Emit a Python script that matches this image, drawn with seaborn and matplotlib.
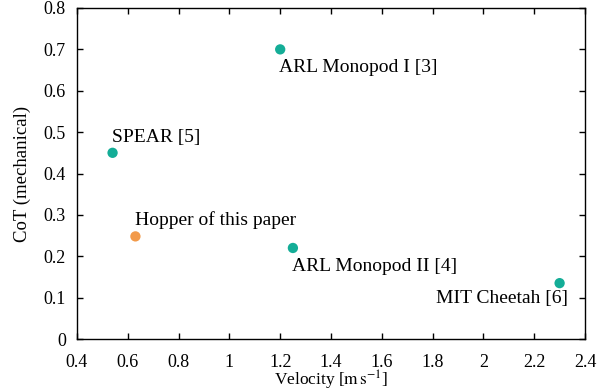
import matplotlib
matplotlib.use("Agg")
import matplotlib.pyplot as plt
import seaborn as sns
import pandas as pd

names = ["ARL Monopod I [3]", "SPEAR [5]", "Hopper of this paper", "ARL Monopod II [4]", "MIT Cheetah [6]"]
velocity = [1.2, 0.54, 0.63, 1.25, 2.3]
cot = [0.70, 0.45, 0.248, 0.22, 0.135]
group = ["other", "other", "ours", "other", "other"]
label_x = [1.195, 0.538, 0.628, 1.246, 2.333]
label_y = [0.657, 0.488, 0.288, 0.176, 0.099]
label_ha = ["left", "left", "left", "left", "right"]
xticks = [0.4, 0.6, 0.8, 1.0, 1.2, 1.4, 1.6, 1.8, 2.0, 2.2, 2.4]
xticklabels = ["0.4", "0.6", "0.8", "1", "1.2", "1.4", "1.6", "1.8", "2", "2.2", "2.4"]
yticks = [0, 0.1, 0.2, 0.3, 0.4, 0.5, 0.6, 0.7, 0.8]
yticklabels = ["0", "0.1", "0.2", "0.3", "0.4", "0.5", "0.6", "0.7", "0.8"]

sns.set_style("ticks")
plt.rcParams["font.family"] = ["Liberation Serif", "DejaVu Serif"]
plt.rcParams["mathtext.fontset"] = "stix"
plt.rcParams["text.color"] = "black"
plt.rcParams["axes.labelcolor"] = "black"

df = pd.DataFrame({"v": velocity, "c": cot, "g": group, "n": names})

fig = plt.figure(figsize=(6.11, 3.91), dpi=100)
ax = fig.add_axes([77/611, 1-339/391, (585-77)/611, (339-8)/391])
sns.scatterplot(data=df, x="v", y="c", hue="g", palette={"other": "#14ad97", "ours": "#f29a4a"},
                s=55, linewidth=0, legend=False, ax=ax)
for n, x, y, ha in zip(names, label_x, label_y, label_ha):
    ax.text(x, y, n, ha=ha, va="center", fontsize=14, color="black")

ax.set_xlim(0.4, 2.4)
ax.set_ylim(0, 0.8)
ax.set_xticks(xticks)
ax.set_xticklabels(xticklabels)
ax.set_yticks(yticks)
ax.set_yticklabels(yticklabels)
ax.tick_params(direction="in", top=True, right=True, length=4, width=1, labelsize=13, color="black", labelcolor="black")
ax.tick_params(axis="x", pad=10.5)
ax.tick_params(axis="y", pad=8)
for sp in ax.spines.values():
    sp.set_linewidth(1.0)
    sp.set_color("black")
ax.set_xlabel(r"Velocity [$\mathrm{m\,s^{-1}}$]", fontsize=12.5, va="baseline")
ax.xaxis.set_label_coords(0.5, -47/331)
ax.set_ylabel("CoT (mechanical)", fontsize=13.5, labelpad=9)
fig.savefig("out.png", dpi=100)
